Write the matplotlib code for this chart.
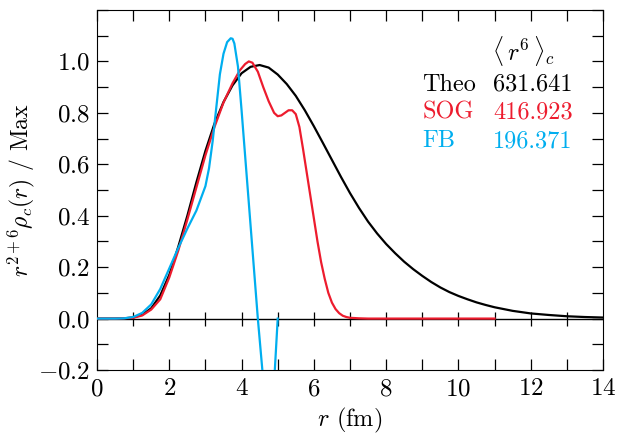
import matplotlib
matplotlib.use("Agg")

import matplotlib.pyplot as plt
from matplotlib.ticker import MultipleLocator

plt.rcParams["font.family"] = "serif"
plt.rcParams["font.serif"] = ["cmr10"]
plt.rcParams["mathtext.fontset"] = "cm"
plt.rcParams["axes.formatter.use_mathtext"] = True
plt.rcParams["font.size"] = 16

BLACK = "#000000"
RED = "#ED1C2E"
BLUE = "#00AEEF"

# Theo (black)
r_theo = [0, 0.25, 0.5, 0.75, 1.0, 1.25, 1.5, 1.75, 2.0, 2.25, 2.5, 2.75, 3.0,
          3.25, 3.5, 3.75, 4.0, 4.25, 4.5, 4.75, 5.0, 5.25, 5.5, 5.75, 6.0,
          6.25, 6.5, 6.75, 7.0, 7.25, 7.5, 7.75, 8.0, 8.25, 8.5, 8.75, 9.0,
          9.25, 9.5, 9.75, 10.0, 10.25, 10.5, 10.75, 11.0, 11.5, 12.0, 12.5,
          13.0, 13.5, 14.0]
y_theo = [0, 0, 0, 0.001, 0.004, 0.015, 0.04, 0.09, 0.17, 0.28, 0.40, 0.53, 0.652,
          0.758, 0.842, 0.907, 0.954, 0.979, 0.986, 0.976, 0.949, 0.912, 0.866, 0.81, 0.748,
          0.683, 0.617, 0.551, 0.488, 0.43, 0.377, 0.331, 0.29, 0.254, 0.221, 0.192, 0.166,
          0.142, 0.121, 0.103, 0.088, 0.075, 0.063, 0.053, 0.044, 0.03, 0.02, 0.014,
          0.009, 0.006, 0.004]

# SOG (red)
r_sog = [0, 0.5, 1.0, 1.25, 1.5, 1.75, 2.0, 2.25, 2.5, 2.75, 3.0, 3.25, 3.5,
         3.75, 3.95, 4.1, 4.2, 4.3, 4.45, 4.6, 4.75, 4.9, 5.0, 5.1, 5.2, 5.3,
         5.4, 5.5, 5.6, 5.7, 5.8, 5.9, 6.0, 6.1, 6.2, 6.3, 6.4, 6.5, 6.6,
         6.7, 6.8, 6.9, 7.0, 7.25, 7.5, 8.0, 9.0, 10.0, 11.0]
y_sog = [0, 0, 0.003, 0.012, 0.035, 0.075, 0.16, 0.265, 0.385, 0.51, 0.635, 0.745, 0.84,
         0.915, 0.965, 0.99, 1.0, 0.995, 0.96, 0.90, 0.845, 0.80, 0.787, 0.79, 0.80, 0.81,
         0.81, 0.795, 0.745, 0.66, 0.57, 0.48, 0.39, 0.30, 0.22, 0.155, 0.10, 0.062, 0.037,
         0.021, 0.011, 0.006, 0.003, 0.001, 0.0, 0.0, 0.0, 0.0, 0.0]

# FB (blue)
r_fb = [0, 0.5, 0.75, 1.0, 1.25, 1.5, 1.75, 2.0, 2.25, 2.5, 2.75, 3.0, 3.1,
        3.2, 3.3, 3.4, 3.5, 3.6, 3.7, 3.75, 3.8, 3.9, 4.0, 4.1, 4.2, 4.3, 4.45,
        4.6, 4.7, 4.8, 4.9, 5.0]
y_fb = [0, 0, 0.001, 0.006, 0.022, 0.055, 0.115, 0.195, 0.275, 0.35, 0.42, 0.515, 0.585,
        0.69, 0.82, 0.95, 1.03, 1.075, 1.09, 1.088, 1.07, 0.98, 0.81, 0.63, 0.45, 0.27, 0.0,
        -0.24, -0.35, -0.38, -0.25, 0.0]

names = ["Theo", "SOG", "FB"]
moments = ["631.641", "416.923", "196.371"]
colors = [BLACK, RED, BLUE]

fig = plt.figure(figsize=(6.23, 4.48), dpi=100)
ax = fig.add_axes([0.1557, 0.1741, 0.8122, 0.8036])

ax.axhline(0, color="k", lw=1.0, zorder=1)
ax.plot(r_theo, y_theo, color=BLACK, lw=1.6, zorder=3)
ax.plot(r_sog, y_sog, color=RED, lw=1.6, zorder=3)
ax.plot(r_fb, y_fb, color=BLUE, lw=1.6, zorder=3)

ymin, ymax = -0.2, 1.2
ax.set_xlim(0, 14)
ax.set_ylim(ymin, ymax)
ax.xaxis.set_major_locator(MultipleLocator(2))
ax.xaxis.set_minor_locator(MultipleLocator(1))
ax.yaxis.set_minor_locator(MultipleLocator(0.1))
ax.set_yticks([-0.2, 0.0, 0.2, 0.4, 0.6, 0.8, 1.0])
ax.tick_params(which="both", direction="in", length=8, width=0.9,
               top=True, right=True, labelsize=18)
ax.tick_params(axis="x", pad=6)
ax.tick_params(axis="y", pad=5)

# ticks along the zero line
zero = ax.secondary_xaxis((0 - ymin) / (ymax - ymin))
zero.set_xticks(range(1, 14))
zero.set_xticklabels([])
zero.tick_params(direction="inout", length=10, width=0.9)
zero.spines["bottom"].set_visible(False)

ax.set_xlabel(r"$r$ (fm)", fontsize=17.5)
ax.set_ylabel(r"$r^{2+6}\rho_c(r)$ / Max", fontsize=17, labelpad=1)

# moment table
ax.text(10.92, 1.04, r"$\langle\, r^6\,\rangle_c$", fontsize=17.5, va="center", ha="left")
ys = [0.909, 0.80, 0.689]
for name, m, c, yy in zip(names, moments, colors, ys):
    ax.text(9.0, yy, name, color=c, fontsize=17.5, va="center", ha="left")
    ax.text(10.96, yy, m, color=c, fontsize=17.5, va="center", ha="left")

fig.savefig("out.png", dpi=100)
